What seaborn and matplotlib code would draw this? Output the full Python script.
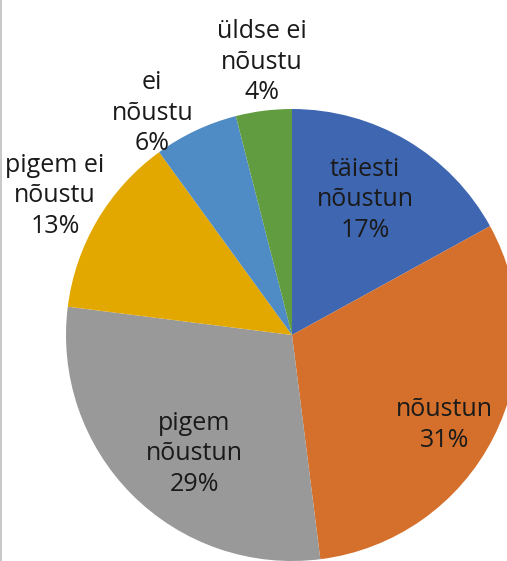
import numpy as np
import seaborn as sns
import matplotlib.pyplot as plt
from matplotlib.lines import Line2D

# Data
categories = ["täiesti\nnõustun", "nõustun", "pigem\nnõustun",
              "pigem ei\nnõustu", "ei\nnõustu", "üldse ei\nnõustu"]
shares = [17, 31, 29, 13, 6, 4]
colors = ["#3f67b1", "#d4702b", "#999999", "#e3a800", "#4f8bc4", "#629c40"]
# label placement: radius (fraction of pie radius) and angle shift in degrees
label_dist = [0.68, 0.785, 0.68, 1.216, 1.16, 1.215]
label_shift = [-2.2, 3.5, -5.6, -0.2, -7.0, 0.9]

sns.set_theme(style="white")
plt.rcParams['font.family'] = ['Open Sans', 'DejaVu Sans']

fig = plt.figure(figsize=(5.07, 5.61), dpi=100)
ax = fig.add_axes([0, 0, 1, 1])

ax.pie(shares, colors=colors, startangle=90, counterclock=False,
       radius=1.0, wedgeprops=dict(linewidth=0))

# labels
cum = np.cumsum([0] + shares[:-1])
for cat, val, start, d, sh in zip(categories, shares, cum, label_dist, label_shift):
    mid = np.deg2rad((start + val / 2) / 100 * 360 + sh)
    x = d * np.sin(mid)
    y = d * np.cos(mid)
    ax.text(x, y, f"{cat}\n{val}%", ha="center", va="center",
            fontsize=18, color="#1a1a1a", linespacing=1.28)

ax.set_xlim(-292 / 226, (507 - 292) / 226)
ax.set_ylim(-226 / 226, 335 / 226)
ax.set_aspect('auto')
ax.axis('off')

# thin frame line on the left edge
fig.add_artist(Line2D([0.002, 0.002], [0, 1], color="#bfbfbf", linewidth=1.2,
                      transform=fig.transFigure))

fig.savefig("out.png", dpi=100)
